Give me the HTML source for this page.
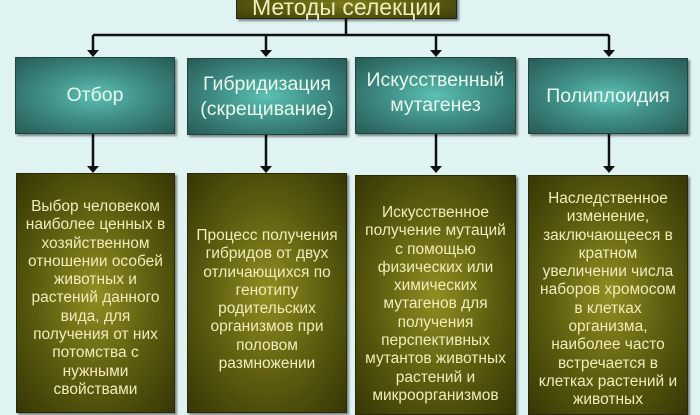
<!DOCTYPE html>
<html><head><meta charset="utf-8"><style>
body{margin:0;width:700px;height:400px;overflow:hidden;background:#dff3f2;font-family:"Liberation Sans","DejaVu Sans",sans-serif;position:relative}
.b{position:absolute;box-sizing:border-box;display:flex;align-items:center;justify-content:center;text-align:center;box-shadow:2px 2px 2px rgba(0,0,0,.45);white-space:nowrap}
.t{background:radial-gradient(ellipse at center,#5cc0b2 0%,#3f8f86 45%,#285a55 100%);color:#e9f6ee;font-size:19.5px;line-height:25px;border:1px solid #1e4541}
.o{background:radial-gradient(ellipse at center,#8f8f22 0%,#5f5f10 50%,#363606 100%);color:#f2ecbc;font-size:15.5px;line-height:18.3px;align-items:flex-start;border:1px solid #2a2a04}
.top{background:radial-gradient(ellipse at center,#7a7a18,#3e3e08);color:#f2ecbc;font-size:23px;border:1px solid #222;align-items:flex-end}
svg{position:absolute;left:0;top:0}
</style></head><body>
<svg width="700" height="400">
<g stroke="#111" stroke-width="2.5" fill="none">
<line x1="346" y1="19" x2="346" y2="35"/>
<line x1="93" y1="35" x2="609" y2="35"/>
<line x1="93" y1="35" x2="93" y2="50"/><line x1="266" y1="35" x2="266" y2="50"/>
<line x1="436" y1="35" x2="436" y2="50"/><line x1="609" y1="35" x2="609" y2="50"/>
<line x1="93" y1="134" x2="93" y2="166"/><line x1="266" y1="135" x2="266" y2="166"/>
<line x1="436" y1="134" x2="436" y2="166"/><line x1="609" y1="134" x2="609" y2="166"/>
</g>
<g fill="#111">
<polygon points="87,50 99,50 93,57"/><polygon points="260,50 272,50 266,57"/>
<polygon points="430,50 442,50 436,57"/><polygon points="603,50 615,50 609,57"/>
<polygon points="87,166 99,166 93,173"/><polygon points="260,166 272,166 266,173"/>
<polygon points="430,166 442,166 436,173"/><polygon points="603,166 615,166 609,173"/>
</g></svg>
<div class="b top" style="left:236px;top:-12px;width:221px;height:31px;line-height:22px">Методы селекции</div>
<div class="b t" style="left:15px;top:57px;width:160px;height:77px">Отбор</div>
<div class="b t" style="left:187px;top:58px;width:160px;height:77px">Гибридизация<br>(скрещивание)</div>
<div class="b t" style="left:355px;top:57px;width:161px;height:77px;padding-bottom:6px">Искусственный<br>мутагенез</div>
<div class="b t" style="left:528px;top:58px;width:160px;height:76px">Полиплоидия</div>
<div class="b o" style="left:16px;top:173px;width:159px;height:240px;padding-top:24px">Выбор человеком<br>наиболее ценных в<br>хозяйственном<br>отношении особей<br>животных и<br>растений данного<br>вида, для<br>получения от них<br>потомства с<br>нужными<br>свойствами</div>
<div class="b o" style="left:187px;top:173px;width:160px;height:240px;padding-top:53px">Процесс получения<br>гибридов от двух<br>отличающихся по<br>генотипу<br>родительских<br>организмов при<br>половом<br>размножении</div>
<div class="b o" style="left:355px;top:175px;width:161px;height:240px;padding-top:28px">Искусственное<br>получение мутаций<br>с помощью<br>физических или<br>химических<br>мутагенов для<br>получения<br>перспективных<br>мутантов животных<br>растений и<br>микроорганизмов</div>
<div class="b o" style="left:528px;top:175px;width:160px;height:240px;padding-top:14px">Наследственное<br>изменение,<br>заключающееся в<br>кратном<br>увеличении числа<br>наборов хромосом<br>в клетках<br>организма,<br>наиболее часто<br>встречается в<br>клетках растений и<br>животных</div>
</body></html>
